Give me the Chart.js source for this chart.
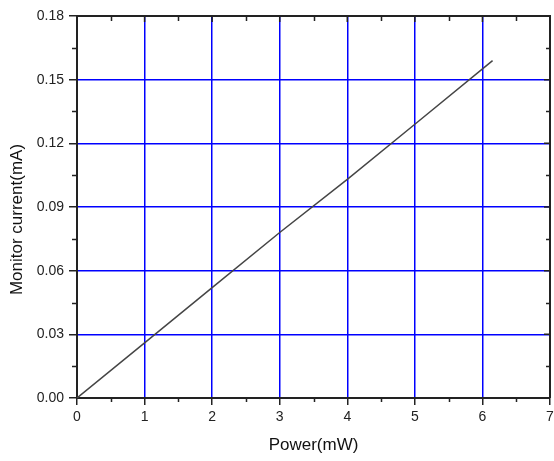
<!DOCTYPE html>
<html><head><meta charset="utf-8">
<script src="https://cdn.jsdelivr.net/npm/chart.js@4.4.1/dist/chart.umd.min.js"></script>
<style>html,body{margin:0;padding:0;background:#fff}</style>
</head><body>
<canvas id="c" width="554" height="461" style="width:554px;height:461px;display:block"></canvas>
<script>
// Data
const powerMW = [0, 1, 2, 3, 4, 5, 6.15];
const monitorCurrentMA = [0, 0.026, 0.052, 0.078, 0.103, 0.129, 0.159];
const xTickValues = [0, 1, 2, 3, 4, 5, 6, 7];
const yTickValues = [0, 0.03, 0.06, 0.09, 0.12, 0.15, 0.18];
const xMinorTicks = [0.5, 1.5, 2.5, 3.5, 4.5, 5.5, 6.5];
const yMinorTicks = [0.015, 0.045, 0.075, 0.105, 0.135, 0.165];
const xTitle = 'Power(mW)';
const yTitle = 'Monitor current(mA)';

const FONT = "'Liberation Sans', Arial, sans-serif";
const AXIS = '#222';

const framePlugin = {
  id: 'frame',
  afterDraw(chart) {
    const {ctx, chartArea: a, scales: {x, y}} = chart;
    ctx.save();
    ctx.strokeStyle = AXIS;
    ctx.lineWidth = 2;
    ctx.beginPath();
    ctx.moveTo(a.left, a.top); ctx.lineTo(a.right, a.top); ctx.lineTo(a.right, a.bottom);
    ctx.stroke();
    ctx.lineWidth = 1.5;
    ctx.beginPath();
    xMinorTicks.forEach(v => {
      const px = Math.round(x.getPixelForValue(v)) + 0.5;
      ctx.moveTo(px, a.bottom); ctx.lineTo(px, a.bottom + 4);
      ctx.moveTo(px, a.top); ctx.lineTo(px, a.top + 5);
    });
    xTickValues.forEach(v => {
      const px = x.getPixelForValue(v);
      ctx.moveTo(px, a.top); ctx.lineTo(px, a.top + 6);
    });
    yMinorTicks.forEach(v => {
      const py = Math.round(y.getPixelForValue(v)) + 0.5;
      ctx.moveTo(a.left, py); ctx.lineTo(a.left - 5, py);
      ctx.moveTo(a.right, py); ctx.lineTo(a.right - 4, py);
    });
    yTickValues.forEach(v => {
      const py = y.getPixelForValue(v);
      ctx.moveTo(a.right, py); ctx.lineTo(a.right - 6, py);
    });
    ctx.stroke();
    ctx.fillStyle = '#111';
    ctx.font = '17px ' + FONT;
    ctx.textAlign = 'center';
    ctx.textBaseline = 'middle';
    ctx.translate(17.5, 219.5);
    ctx.rotate(-Math.PI / 2);
    ctx.fillText(yTitle, 0, 0);
    ctx.restore();
  }
};

new Chart(document.getElementById('c'), {
  type: 'line',
  data: {
    datasets: [{
      data: powerMW.map((p, i) => ({x: p, y: monitorCurrentMA[i]})),
      borderColor: '#454545',
      borderWidth: 1.5,
      pointRadius: 0,
      fill: false,
      tension: 0
    }]
  },
  options: {
    responsive: false,
    animation: false,
    devicePixelRatio: 1,
    layout: {padding: {top: 16, right: 0, left: 0, bottom: 0}},
    plugins: {legend: {display: false}, tooltip: {enabled: false}},
    scales: {
      x: {
        type: 'linear', min: 0, max: 7,
        afterBuildTicks: s => { s.ticks = xTickValues.map(v => ({value: v})); },
        afterFit: s => { s.height = 63; s.paddingRight = 4; },
        ticks: {
          font: {family: FONT, size: 14}, color: AXIS, padding: 4,
          maxRotation: 0, autoSkip: false,
          callback: v => String(v)
        },
        grid: {
          color: c => (c.tick && (c.tick.value === 0 || c.tick.value === 7)) ? 'rgba(0,0,0,0)' : '#0000ff',
          lineWidth: 1.5, tickLength: 7, tickColor: AXIS, tickWidth: 1.5
        },
        border: {display: true, color: AXIS, width: 2},
        title: {display: true, text: xTitle, color: '#111', font: {family: FONT, size: 17}, padding: {top: 0, bottom: 5}}
      },
      y: {
        type: 'linear', min: 0, max: 0.18,
        afterBuildTicks: s => { s.ticks = yTickValues.map(v => ({value: v})); },
        afterFit: s => { s.width = 77; },
        ticks: {
          font: {family: FONT, size: 14}, color: AXIS, padding: 5, autoSkip: false,
          callback: v => Number(v).toFixed(2)
        },
        grid: {
          color: c => (c.tick && (Math.abs(c.tick.value) < 1e-9 || Math.abs(c.tick.value - 0.18) < 1e-9)) ? 'rgba(0,0,0,0)' : '#0000ff',
          lineWidth: 1.5, tickLength: 8, tickColor: AXIS, tickWidth: 1.5
        },
        border: {display: true, color: AXIS, width: 2},
        title: {display: false}
      }
    }
  },
  plugins: [framePlugin]
});
</script>
</body></html>
